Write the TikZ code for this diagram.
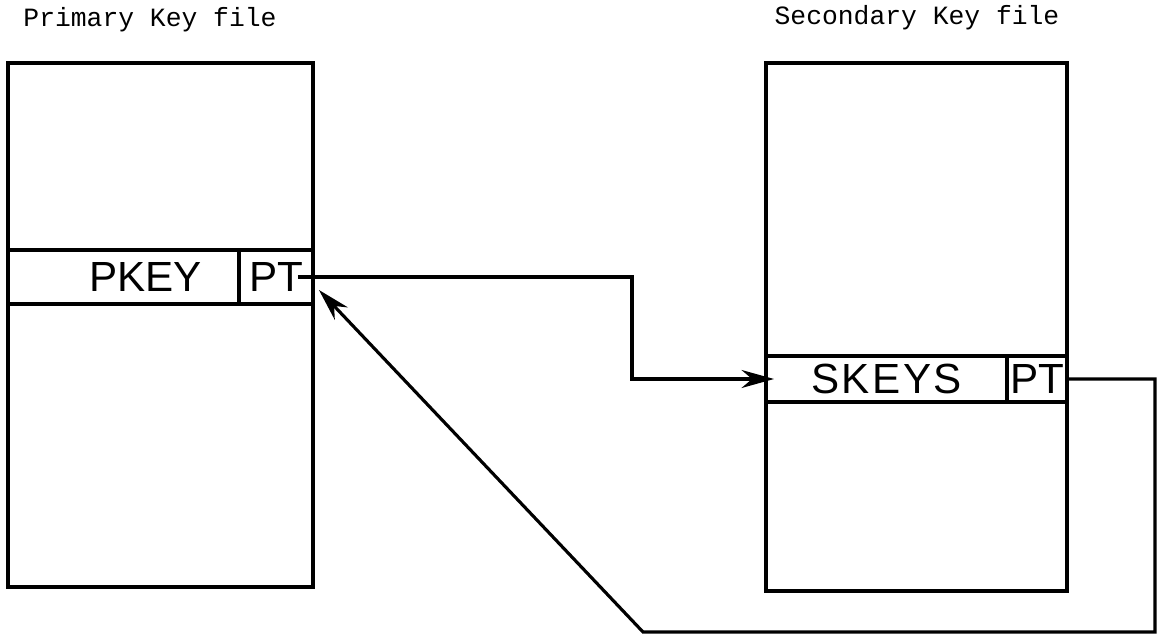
\documentclass[tikz,border=0pt]{standalone}
\usepackage{fontspec}
\setmainfont{Liberation Sans}
\newfontfamily\maquina{Liberation Mono}
\usetikzlibrary{positioning, calc, arrows.meta}

\begin{document}
\begin{tikzpicture}[
    x=0.02cm, y=-0.02cm,
    >={Stealth[length=6.5mm, width=3.6mm]}, % punta de flecha rellena
    titulo/.style={font=\maquina\fontsize{15}{18}\selectfont},
    archivo/.style={draw, line width=1.8pt, minimum width=6.1cm, inner sep=0pt},
    celda/.style={draw, line width=1.8pt, inner sep=0pt, outer sep=0pt, font=\fontsize{24}{28}\selectfont},
    enlace/.style={line width=1.8pt}
]
    \useasboundingbox (0,0) rectangle (1157,638);

    % 1. Archivos (cajas grandes)
    \node[archivo, minimum height=10.48cm] (primario) at (160.5,325) {};
    \node[archivo, minimum width=6.02cm, minimum height=10.56cm] (secundario) at (916.5,327) {};

    % 2. Titulos
    \node[titulo] (tprim) at (150,20) {Primary Key file};
    \node[titulo] (tsec) at (917,18) {Secondary Key file};

    % 3. Registros con su puntero
    \node[celda, minimum width=4.62cm, minimum height=1.08cm] (pkey) at (123.5,277) {\hspace{0.88cm}PKEY};
    \node[celda, minimum width=1.48cm, minimum height=1.08cm, right=0pt of pkey] (ppt) {PT};
    \node[celda, minimum width=4.82cm, minimum height=0.92cm] (skeys) at (886.5,379) {\addfontfeature{LetterSpace=6}SKEYS};
    \node[celda, minimum width=1.2cm, minimum height=0.92cm, right=0pt of skeys] (spt) {PT};

    % 4. Enlaces entre registros
    \coordinate (salida) at ($(ppt.east)+(-15,0)$);
    \coordinate (codo) at (632,0);
    \draw[enlace, ->] (salida) -- (salida -| codo) |- ($(skeys.west)+(8,0)$);

    \coordinate (vuelta) at (1155,632);
    \coordinate (quiebre) at (643,632);
    \coordinate (punta) at ($(ppt.south east)+(6,-14)$);
    \draw[enlace, ->] (spt.east) -| (vuelta) -- (quiebre) -- (punta);

\end{tikzpicture}
\end{document}
